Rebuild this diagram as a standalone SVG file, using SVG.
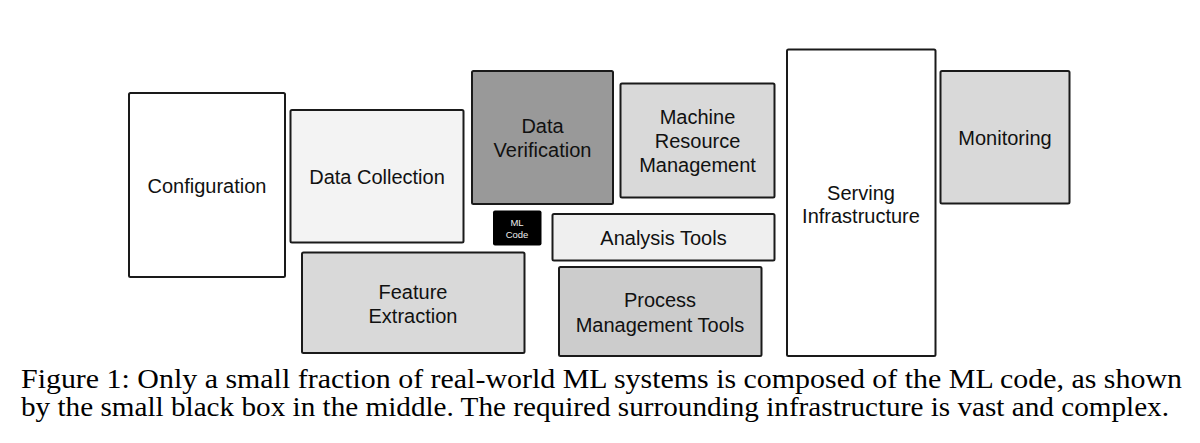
<svg xmlns="http://www.w3.org/2000/svg" width="1200" height="443" viewBox="0 0 1200 443">
  <style>
    .box { stroke: #1a1a1a; stroke-width: 2; }
    .lbl { font-family: 'Liberation Sans', Arimo, Arial, Helvetica, sans-serif; font-size: 20px; fill: #111; text-anchor: middle; }
    .small { font-family: 'Liberation Sans', Arimo, Arial, Helvetica, sans-serif; font-size: 9.5px; fill: #eeeeee; text-anchor: middle; }
    .cap { font-family: 'Liberation Serif', Tinos, 'Times New Roman', Times, serif; font-size: 28px; fill: #000; }
  </style>
  <rect width="1200" height="443" fill="#ffffff"/>
  <g id="connectors"/>
  <g id="configuration">
    <rect class="box" x="129" y="93" width="156" height="184" rx="1.5" fill="#ffffff"/>
    <text class="lbl" x="207" y="193">Configuration</text>
  </g>
  <g id="data-collection">
    <rect class="box" x="290.5" y="110" width="173" height="132.5" rx="1.5" fill="#f3f3f3"/>
    <text class="lbl" x="377" y="184">Data Collection</text>
  </g>
  <g id="data-verification">
    <rect class="box" x="472" y="71" width="141" height="133" rx="1.5" fill="#999999"/>
    <text class="lbl" x="542.5" y="133">Data</text>
    <text class="lbl" x="542.5" y="157">Verification</text>
  </g>
  <g id="machine-resource-management">
    <rect class="box" x="620.5" y="83.5" width="154" height="114" rx="1.5" fill="#d9d9d9"/>
    <text class="lbl" x="697.5" y="124">Machine</text>
    <text class="lbl" x="697.5" y="148">Resource</text>
    <text class="lbl" x="697.5" y="172">Management</text>
  </g>
  <g id="ml-code">
    <rect x="493" y="210.5" width="48.5" height="35" rx="2" fill="#000000"/>
    <text class="small" x="517" y="226">ML</text>
    <text class="small" x="517" y="238">Code</text>
  </g>
  <g id="analysis-tools">
    <rect class="box" x="552.5" y="214" width="222" height="46.5" rx="1.5" fill="#efefef"/>
    <text class="lbl" x="663.5" y="245">Analysis Tools</text>
  </g>
  <g id="feature-extraction">
    <rect class="box" x="302" y="252.5" width="222.5" height="100.5" rx="1.5" fill="#d9d9d9"/>
    <text class="lbl" x="413" y="299">Feature</text>
    <text class="lbl" x="413" y="323">Extraction</text>
  </g>
  <g id="process-management-tools">
    <rect class="box" x="559" y="267" width="202.5" height="89" rx="1.5" fill="#cccccc"/>
    <text class="lbl" x="660" y="307">Process</text>
    <text class="lbl" x="660" y="332">Management Tools</text>
  </g>
  <g id="serving-infrastructure">
    <rect class="box" x="787" y="49.5" width="148.5" height="306.5" rx="1.5" fill="#ffffff"/>
    <text class="lbl" x="861" y="200">Serving</text>
    <text class="lbl" x="861" y="223">Infrastructure</text>
  </g>
  <g id="monitoring">
    <rect class="box" x="940.5" y="71" width="129" height="132.5" rx="1.5" fill="#d9d9d9"/>
    <text class="lbl" x="1005" y="145">Monitoring</text>
  </g>
  <g id="caption">
    <text class="cap" x="21" y="388" textLength="1161" lengthAdjust="spacingAndGlyphs">Figure 1: Only a small fraction of real-world ML systems is composed of the ML code, as shown</text>
    <text class="cap" x="21" y="416" textLength="1148" lengthAdjust="spacingAndGlyphs">by the small black box in the middle. The required surrounding infrastructure is vast and complex.</text>
  </g>
</svg>
